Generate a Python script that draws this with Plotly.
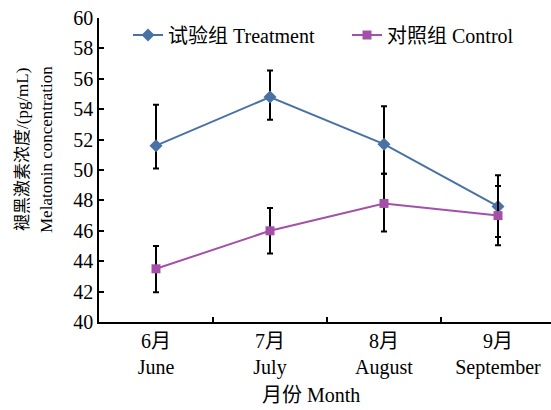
import plotly.graph_objects as go

# Month categories (two-line labels: Chinese / English)
months_cn = ["6月", "7月", "8月", "9月"]
months_en = ["June", "July", "August", "September"]

# Melatonin concentration (pg/mL)
treatment = [51.6, 54.8, 51.7, 47.6]
treatment_err_plus = [2.7, 1.75, 2.5, 2.05]
treatment_err_minus = [1.5, 1.5, 1.95, 2.0]

control = [43.5, 46.0, 47.8, 47.0]
control_err_plus = [1.5, 1.5, 1.95, 1.95]
control_err_minus = [1.55, 1.5, 1.85, 1.95]

x_pos = list(range(len(months_cn)))
tick_text = [f"{c}<br>{e}" for c, e in zip(months_cn, months_en)]

FONT = "Liberation Serif, Noto Sans CJK SC"
BLUE = "#4872A6"
PURPLE = "#A550A8"

fig = go.Figure()

fig.add_trace(go.Scatter(
    x=x_pos, y=treatment, mode="lines+markers", name="试验组 Treatment",
    legend="legend",
    line=dict(color=BLUE, width=2),
    marker=dict(symbol="diamond", size=10, color=BLUE),
    error_y=dict(type="data", symmetric=False, array=treatment_err_plus,
                 arrayminus=treatment_err_minus, color="black",
                 thickness=2, width=3),
))

fig.add_trace(go.Scatter(
    x=x_pos, y=control, mode="lines+markers", name="对照组 Control",
    legend="legend2",
    line=dict(color=PURPLE, width=2),
    marker=dict(symbol="square", size=9, color=PURPLE),
    error_y=dict(type="data", symmetric=False, array=control_err_plus,
                 arrayminus=control_err_minus, color="black",
                 thickness=2, width=3),
))

fig.update_xaxes(
    range=[-0.5, -0.5 + 452 / 114],
    tickmode="array", tickvals=x_pos, ticktext=tick_text,
    ticks="", showgrid=False, zeroline=False,
    showline=True, linecolor="black", linewidth=1.5,
    tickfont=dict(family=FONT, size=20, color="black"),
    minor=dict(tickmode="array", tickvals=[0.5, 1.5, 2.5],
               ticks="inside", ticklen=5, tickwidth=1.5, tickcolor="black"),
)

fig.update_yaxes(
    range=[40, 60], tickmode="linear", tick0=40, dtick=2,
    ticks="inside", ticklen=5, tickwidth=1.5, tickcolor="black",
    showgrid=False, zeroline=False,
    showline=True, linecolor="black", linewidth=1.5,
    tickfont=dict(family=FONT, size=20, color="black"),
)

# Axis titles
fig.add_annotation(
    text="褪黑激素浓度/(pg/mL)", xref="paper", yref="paper",
    x=(22 - 99) / 452, y=(322 - 150) / 304, textangle=-90,
    showarrow=False, xanchor="center", yanchor="middle",
    font=dict(family=FONT, size=17, color="black"),
)
fig.add_annotation(
    text="Melatonin concentration", xref="paper", yref="paper",
    x=(46 - 99) / 452, y=(322 - 150) / 304, textangle=-90,
    showarrow=False, xanchor="center", yanchor="middle",
    font=dict(family=FONT, size=17, color="black"),
)
fig.add_annotation(
    text="月份 Month", xref="paper", yref="paper",
    x=(311 - 99) / 452, y=(322 - 395) / 304,
    showarrow=False, xanchor="center", yanchor="middle",
    font=dict(family=FONT, size=20, color="black"),
)

legend_style = dict(orientation="h", xanchor="left", yanchor="middle",
                    y=(322 - 35) / 304, bgcolor="rgba(0,0,0,0)",
                    font=dict(family=FONT, size=20))

fig.update_layout(
    width=551, height=410,
    margin=dict(l=99, r=0, t=18, b=88),
    plot_bgcolor="white", paper_bgcolor="white",
    font=dict(family=FONT, size=20, color="black"),
    showlegend=True,
    legend=dict(x=(128 - 99) / 452, **legend_style),
    legend2=dict(x=(347 - 99) / 452, **legend_style),
)

fig.write_html("out.html")
